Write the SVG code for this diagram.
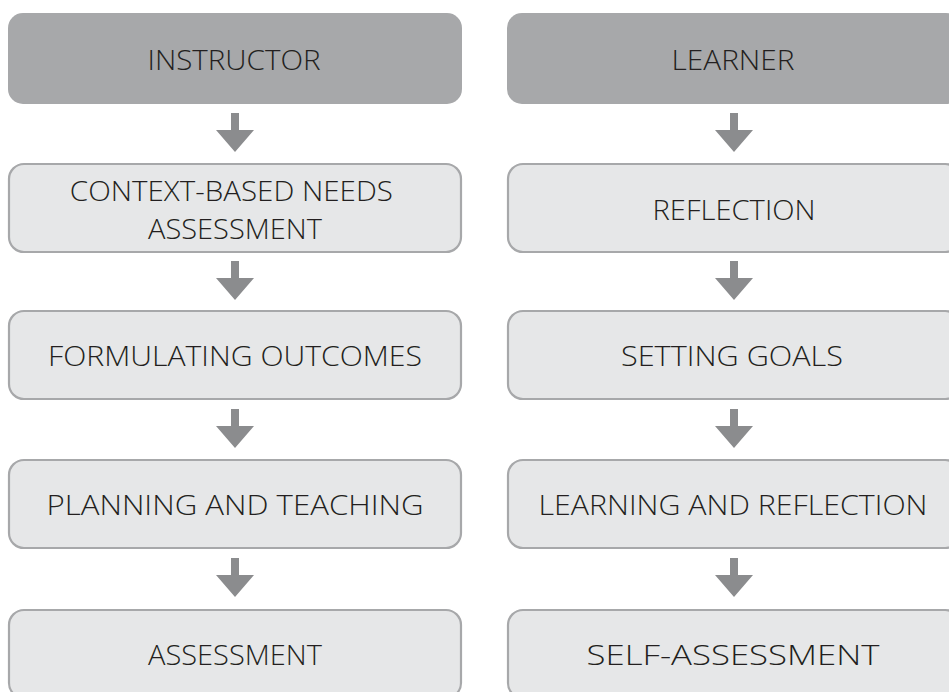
<svg xmlns="http://www.w3.org/2000/svg" width="949" height="692" viewBox="0 0 949 692">
  <defs>
    <style>
      .head { fill: #a7a8aa; }
      .step { fill: #e6e7e8; stroke: #a7a8aa; stroke-width: 2.2; }
      .label { font-family: "Open Sans", "Liberation Sans", Arial, sans-serif; font-weight: 300; font-size: 28px; fill: #231f20; text-anchor: middle; }
      .arrow { fill: #8b8c8e; }
    </style>
    <!-- down arrow, origin at the top of the shaft -->
    <path id="down" d="M-4,0 H4 V17 H19 L0,39 L-19,17 H-4 Z"/>
  </defs>
  <rect width="949" height="692" fill="#ffffff"/>

  <!-- instructor column -->
  <g id="instructor">
    <rect class="head" x="8" y="13" width="454" height="91" rx="15"/>
    <text class="label" x="234" y="70" textLength="173" lengthAdjust="spacingAndGlyphs">INSTRUCTOR</text>
  </g>
  <g id="needs-assessment">
    <rect class="step" x="9" y="164" width="452" height="88" rx="15"/>
    <text class="label">
      <tspan x="235" y="201" textLength="323" lengthAdjust="spacingAndGlyphs">CONTEXT-BASED NEEDS</tspan>
      <tspan x="235" y="239" textLength="174" lengthAdjust="spacingAndGlyphs">ASSESSMENT</tspan>
    </text>
  </g>
  <g id="formulating-outcomes">
    <rect class="step" x="9" y="311" width="452" height="88" rx="15"/>
    <text class="label" x="235" y="366" textLength="374" lengthAdjust="spacingAndGlyphs">FORMULATING OUTCOMES</text>
  </g>
  <g id="planning-teaching">
    <rect class="step" x="9" y="460" width="452" height="88" rx="15"/>
    <text class="label" x="235" y="515" textLength="377" lengthAdjust="spacingAndGlyphs">PLANNING AND TEACHING</text>
  </g>
  <g id="assessment">
    <rect class="step" x="9" y="610" width="452" height="88" rx="15"/>
    <text class="label" x="235" y="665" textLength="174" lengthAdjust="spacingAndGlyphs">ASSESSMENT</text>
  </g>

  <!-- learner column -->
  <g id="learner">
    <rect class="head" x="507" y="13" width="454" height="91" rx="15"/>
    <text class="label" x="733" y="70" textLength="123" lengthAdjust="spacingAndGlyphs">LEARNER</text>
  </g>
  <g id="reflection">
    <rect class="step" x="508" y="164" width="452" height="88" rx="15"/>
    <text class="label" x="734" y="220" textLength="163" lengthAdjust="spacingAndGlyphs">REFLECTION</text>
  </g>
  <g id="setting-goals">
    <rect class="step" x="508" y="311" width="452" height="88" rx="15"/>
    <text class="label" x="732" y="366" textLength="222" lengthAdjust="spacingAndGlyphs">SETTING GOALS</text>
  </g>
  <g id="learning-reflection">
    <rect class="step" x="508" y="460" width="452" height="88" rx="15"/>
    <text class="label" x="733" y="515" textLength="389" lengthAdjust="spacingAndGlyphs">LEARNING AND REFLECTION</text>
  </g>
  <g id="self-assessment">
    <rect class="step" x="508" y="610" width="452" height="88" rx="15"/>
    <text class="label" x="733" y="665" textLength="293" lengthAdjust="spacingAndGlyphs">SELF-ASSESSMENT</text>
  </g>

  <!-- connectors -->
  <g id="connectors" class="arrow">
    <use href="#down" x="235" y="113"/>
    <use href="#down" x="235" y="261"/>
    <use href="#down" x="235" y="409"/>
    <use href="#down" x="235" y="558"/>
    <use href="#down" x="734" y="113"/>
    <use href="#down" x="734" y="261"/>
    <use href="#down" x="734" y="409"/>
    <use href="#down" x="734" y="558"/>
  </g>
</svg>
